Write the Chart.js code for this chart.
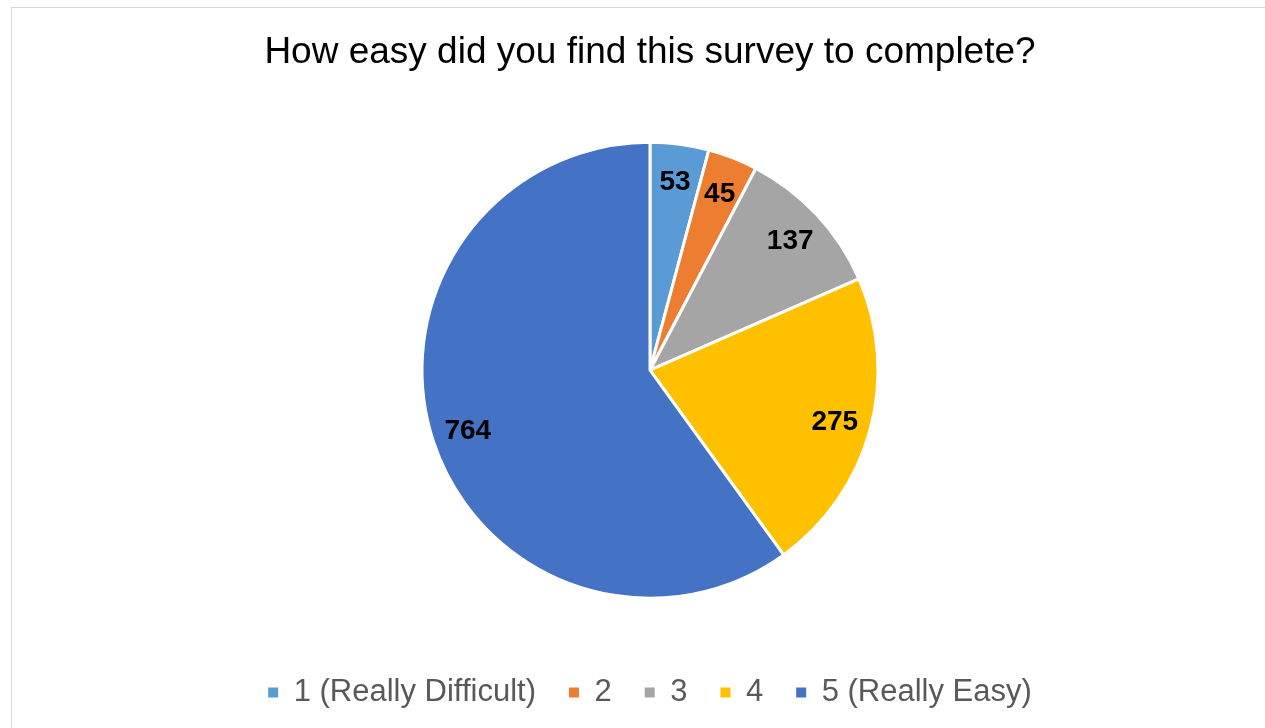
<!DOCTYPE html>
<html>
<head>
<meta charset="utf-8">
<script src="https://cdn.jsdelivr.net/npm/chart.js@4"></script>
<style>
    html, body { margin: 0; padding: 0; width: 1265px; height: 728px; overflow: hidden; background: #fff; }
    #frame { position: absolute; left: 11px; top: 7px; width: 2000px; height: 2000px; border: 1px solid #d9d9d9; }
    #wrap { position: absolute; left: 12px; top: 8px; width: 1276px; height: 720px; }
</style>
</head>
<body>
<div id="frame"></div>
<div id="wrap"><canvas id="chartsurvey"></canvas></div>
<script>
    const chartTitle = 'How easy did you find this survey to complete?';
    const categories = ['1 (Really Difficult)', '2', '3', '4', '5 (Really Easy)'];
    const answers = [53, 45, 137, 275, 764];
    const sliceColors = ['#5B9BD5', '#ED7D31', '#A5A5A5', '#FFC000', '#4472C4'];

    const fontName = '"Liberation Sans", Arial, sans-serif';

    // draws the numbers inside each slice
    const sliceLabels = {
        id: 'sliceLabels',
        afterDatasetsDraw(chart) {
            const ctx = chart.ctx;
            const meta = chart.getDatasetMeta(0);
            ctx.save();
            ctx.font = 'bold 28px ' + fontName;
            ctx.fillStyle = '#000';
            ctx.textAlign = 'center';
            ctx.textBaseline = 'middle';
            meta.data.forEach((arc, i) => {
                const p = arc.getProps(['x', 'y', 'startAngle', 'endAngle', 'outerRadius'], true);
                const mid = (p.startAngle + p.endAngle) / 2;
                const r = p.outerRadius * 0.84;
                ctx.fillText(String(chart.data.datasets[0].data[i]), p.x + Math.cos(mid) * r, p.y + Math.sin(mid) * r + 2);
            });
            ctx.restore();
        }
    };

    new Chart(document.getElementById('chartsurvey'), {
        type: 'pie',
        data: {
            labels: categories,
            datasets: [{
                data: answers,
                backgroundColor: sliceColors,
                borderColor: '#ffffff',
                borderWidth: 3
            }]
        },
        options: {
            responsive: true,
            maintainAspectRatio: false,
            animation: false,
            radius: 228,
            layout: {
                padding: { top: 0, bottom: 10, left: 0, right: 0 }
            },
            plugins: {
                title: {
                    display: true,
                    text: chartTitle,
                    color: '#000000',
                    font: { family: fontName, size: 37, weight: 'normal' },
                    padding: { top: 23, bottom: 21 }
                },
                legend: {
                    display: true,
                    position: 'bottom',
                    labels: {
                        color: '#595959',
                        font: { family: fontName, size: 31 },
                        boxWidth: 10,
                        boxHeight: 10,
                        padding: 33,
                        generateLabels(chart) {
                            const items = Chart.overrides.pie.plugins.legend.labels.generateLabels(chart);
                            items.forEach(it => { it.lineWidth = 0; });
                            return items;
                        }
                    }
                },
                tooltip: { enabled: false }
            }
        },
        plugins: [sliceLabels]
    });
</script>
</body>
</html>
